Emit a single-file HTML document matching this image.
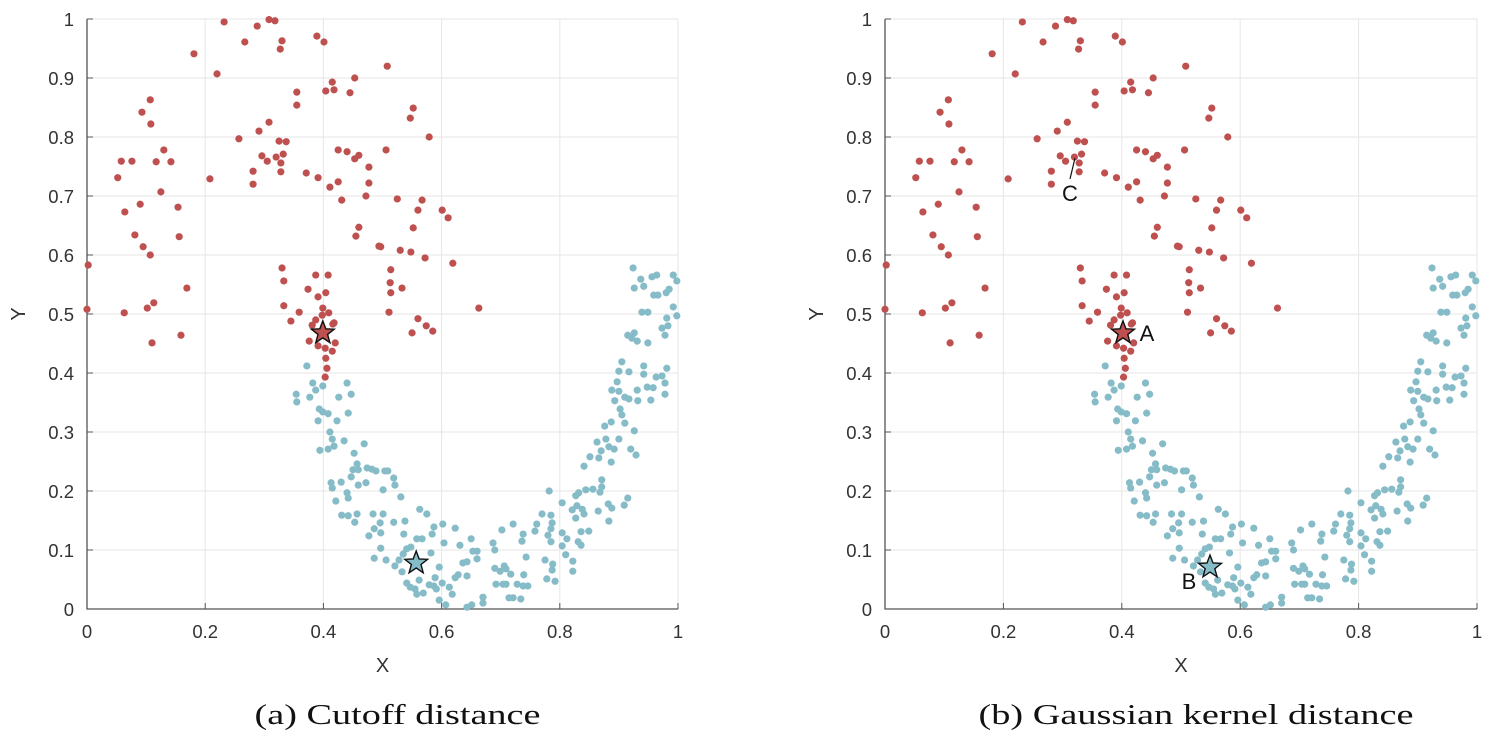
<!DOCTYPE html>
<html><head><meta charset="utf-8"><style>
body{margin:0;background:#fff;}
svg{display:block;font-family:"Liberation Sans",sans-serif;}
</style></head><body>
<svg id="c" width="1491" height="741"></svg>
<script>
const redX=[0.232,0.288,0.308,0.318,0.267,0.330,0.327,0.389,0.401,0.181,0.220,0.415,0.453,0.404,0.418,0.445,0.355,0.355,0.107,0.093,0.108,0.308,0.291,0.257,0.325,0.337,0.130,0.058,0.076,0.117,0.142,0.296,0.320,0.332,0.305,0.328,0.281,0.328,0.371,0.391,0.281,0.052,0.208,0.425,0.440,0.453,0.460,0.477,0.477,0.411,0.425,0.472,0.431,0.125,0.090,0.064,0.154,0.081,0.156,0.095,0.107,0.460,0.455,0.494,0.002,0.330,0.333,0.387,0.408,0.374,0.404,0.391,0.169,0.333,0.359,0.399,0.409,0.345,0.0,0.063,0.102,0.113,0.159,0.110,0.381,0.387,0.418,0.376,0.391,0.403,0.420,0.415,0.404,0.398,0.406,0.403,0.508,0.552,0.547,0.579,0.506,0.525,0.567,0.560,0.601,0.611,0.552,0.497,0.530,0.548,0.572,0.619,0.514,0.513,0.514,0.533,0.511,0.560,0.574,0.585,0.550,0.663,0.416];
const redY=[0.995,0.988,0.999,0.997,0.961,0.963,0.949,0.971,0.961,0.941,0.907,0.893,0.900,0.878,0.880,0.875,0.876,0.854,0.863,0.842,0.822,0.825,0.810,0.797,0.793,0.792,0.778,0.759,0.759,0.758,0.758,0.768,0.766,0.771,0.759,0.756,0.742,0.741,0.739,0.731,0.720,0.731,0.729,0.778,0.775,0.763,0.769,0.749,0.722,0.715,0.724,0.700,0.693,0.707,0.686,0.673,0.681,0.634,0.631,0.614,0.600,0.647,0.632,0.615,0.583,0.578,0.556,0.566,0.566,0.542,0.536,0.529,0.544,0.514,0.503,0.510,0.502,0.488,0.508,0.502,0.510,0.519,0.464,0.451,0.481,0.490,0.485,0.454,0.446,0.442,0.451,0.437,0.425,0.498,0.408,0.393,0.920,0.849,0.832,0.800,0.778,0.695,0.693,0.676,0.676,0.663,0.646,0.614,0.608,0.605,0.595,0.586,0.575,0.553,0.536,0.544,0.503,0.492,0.480,0.471,0.468,0.510,0.483];
const blueX=[0.924,0.937,0.956,0.964,0.992,0.998,0.926,0.942,0.959,0.966,0.980,0.985,0.992,0.939,0.949,0.981,0.998,0.973,0.983,0.978,0.915,0.926,0.931,0.949,0.922,0.372,0.382,0.387,0.399,0.440,0.354,0.355,0.377,0.426,0.447,0.393,0.399,0.408,0.391,0.423,0.442,0.411,0.415,0.435,0.418,0.394,0.408,0.469,0.452,0.457,0.450,0.459,0.474,0.482,0.489,0.504,0.509,0.519,0.521,0.447,0.459,0.472,0.430,0.413,0.415,0.501,0.531,0.440,0.442,0.421,0.431,0.442,0.457,0.453,0.484,0.501,0.496,0.486,0.497,0.477,0.519,0.538,0.536,0.563,0.575,0.587,0.584,0.558,0.567,0.602,0.623,0.604,0.631,0.650,0.653,0.660,0.660,0.497,0.486,0.506,0.548,0.541,0.535,0.582,0.528,0.521,0.533,0.562,0.596,0.589,0.541,0.547,0.555,0.558,0.569,0.579,0.587,0.591,0.601,0.613,0.618,0.596,0.607,0.623,0.628,0.643,0.636,0.643,0.643,0.651,0.670,0.670,0.687,0.690,0.702,0.721,0.738,0.736,0.743,0.690,0.699,0.706,0.709,0.717,0.739,0.692,0.704,0.709,0.728,0.738,0.746,0.714,0.721,0.734,0.758,0.761,0.770,0.782,0.785,0.787,0.785,0.780,0.785,0.775,0.788,0.787,0.778,0.792,0.804,0.804,0.812,0.804,0.810,0.822,0.822,0.821,0.827,0.832,0.829,0.838,0.841,0.827,0.836,0.849,0.831,0.836,0.844,0.856,0.868,0.871,0.871,0.865,0.882,0.888,0.883,0.909,0.915,0.841,0.851,0.866,0.863,0.870,0.883,0.892,0.887,0.878,0.900,0.920,0.929,0.876,0.887,0.910,0.926,0.902,0.905,0.888,0.893,0.900,0.910,0.917,0.932,0.931,0.897,0.900,0.905,0.917,0.942,0.942,0.948,0.958,0.954,0.963,0.973,0.978,0.978,0.981];
const blueY=[0.578,0.559,0.563,0.566,0.566,0.556,0.544,0.547,0.532,0.532,0.536,0.542,0.512,0.503,0.503,0.493,0.497,0.476,0.480,0.464,0.464,0.468,0.454,0.451,0.459,0.412,0.383,0.371,0.378,0.383,0.364,0.351,0.359,0.359,0.364,0.339,0.334,0.331,0.319,0.319,0.332,0.300,0.288,0.285,0.276,0.269,0.271,0.280,0.264,0.246,0.236,0.236,0.239,0.237,0.234,0.234,0.234,0.222,0.210,0.224,0.210,0.214,0.215,0.214,0.205,0.202,0.190,0.197,0.188,0.183,0.159,0.158,0.161,0.147,0.161,0.161,0.146,0.136,0.129,0.124,0.147,0.149,0.127,0.169,0.161,0.139,0.127,0.119,0.119,0.144,0.137,0.112,0.108,0.119,0.098,0.098,0.085,0.103,0.086,0.083,0.105,0.102,0.093,0.095,0.083,0.073,0.063,0.049,0.071,0.053,0.044,0.037,0.034,0.025,0.027,0.041,0.039,0.034,0.044,0.037,0.025,0.015,0.007,0.053,0.058,0.056,0.078,0.080,0.003,0.007,0.020,0.010,0.112,0.100,0.134,0.144,0.127,0.115,0.088,0.069,0.064,0.073,0.068,0.059,0.058,0.042,0.042,0.042,0.042,0.039,0.039,0.019,0.019,0.017,0.132,0.144,0.161,0.200,0.159,0.146,0.136,0.125,0.114,0.083,0.076,0.066,0.051,0.047,0.180,0.129,0.119,0.107,0.092,0.081,0.064,0.168,0.192,0.197,0.175,0.169,0.161,0.154,0.131,0.132,0.114,0.108,0.202,0.203,0.198,0.207,0.219,0.166,0.178,0.171,0.149,0.176,0.188,0.242,0.258,0.256,0.283,0.268,0.275,0.271,0.249,0.288,0.288,0.271,0.261,0.310,0.317,0.315,0.302,0.339,0.329,0.371,0.353,0.369,0.359,0.356,0.353,0.371,0.385,0.403,0.419,0.402,0.398,0.412,0.376,0.375,0.354,0.393,0.395,0.383,0.364,0.408];
const ticks=[0,0.2,0.4,0.6,0.8,1];
const tickLabels=["0","0.2","0.4","0.6","0.8","1"];
const yTicks=[0,0.1,0.2,0.3,0.4,0.5,0.6,0.7,0.8,0.9,1];
const yTickLabels=["0","0.1","0.2","0.3","0.4","0.5","0.6","0.7","0.8","0.9","1"];
const starsLeft=[[0.399,0.468,"red"],[0.557,0.078,"blue"]];
const starsRight=[[0.402,0.468,"red"],[0.549,0.071,"blue"]];
const RED="#bf5050",BLUE="#86bcc8";
const NS="http://www.w3.org/2000/svg";
const svg=document.getElementById('c');
function mk(tag,attrs,parent){const e=document.createElementNS(NS,tag);for(const k in attrs)e.setAttribute(k,attrs[k]);(parent||svg).appendChild(e);return e;}
function starPath(cx,cy,R){const r=R*0.42;let d="";for(let i=0;i<10;i++){const a=-Math.PI/2+i*Math.PI/5;const rr=i%2?r:R;d+=(i?"L":"M")+(cx+rr*Math.cos(a)).toFixed(1)+","+(cy+rr*Math.sin(a)).toFixed(1);}return d+"Z";}
function panel(x0,x1,stars,title,capW,name){
  const y0=609,y1=19;
  const sx=v=>x0+v*(x1-x0), sy=v=>y0-v*(y0-y1);
  const g=mk('g',{});
  
  
  ticks.forEach((t,i)=>{
    const l=mk('line',{x1:sx(t),x2:sx(t),y1:y1,y2:y0,stroke:"#e6e6e6","stroke-width":1},g);
    
    
    const tk=mk('line',{x1:sx(t),x2:sx(t),y1:y0,y2:y0-6,stroke:"#555","stroke-width":1},g);
    
    
    const tx=mk('text',{x:sx(t),y:y0+29,"text-anchor":"middle","font-size":18.5,fill:"#333"},g);
    tx.textContent=tickLabels[i];
    
    
  });
  yTicks.forEach((t,i)=>{
    const l=mk('line',{x1:x0,x2:x1,y1:sy(t),y2:sy(t),stroke:"#e6e6e6","stroke-width":1},g);
    
    
    const tk=mk('line',{x1:x0,x2:x0+6,y1:sy(t),y2:sy(t),stroke:"#555","stroke-width":1},g);
    
    
    const tx=mk('text',{x:x0-13,y:sy(t)+7,"text-anchor":"end","font-size":18.5,fill:"#333"},g);
    tx.textContent=yTickLabels[i];
    
    
  });
  const ax=mk('path',{d:`M${x0},${y1}V${y0}H${x1}`,fill:"none",stroke:"#555","stroke-width":1.3},g);
  
  
  for(let i=0;i<blueX.length;i++){
    const c=mk('circle',{cx:sx(blueX[i]),cy:sy(blueY[i]),r:3.6,fill:BLUE},g);
    
    
  }
  for(let i=0;i<redX.length;i++){
    const c=mk('circle',{cx:sx(redX[i]),cy:sy(redY[i]),r:3.6,fill:RED},g);
    
    
  }
  stars.forEach(s=>{
    const p=mk('path',{d:starPath(sx(s[0]),sy(s[1]),12),fill:s[2]==="red"?RED:BLUE,stroke:"#111","stroke-width":1.4},g);
    
    
  });
  const xl=mk('text',{x:(x0+x1)/2,y:672,"text-anchor":"middle","font-size":20,fill:"#333"},g);
  xl.textContent="X";
  
  
  const yl=mk('text',{x:0,y:0,"text-anchor":"middle","font-size":20,fill:"#333",transform:`translate(${x0-62},${(y0+y1)/2}) rotate(-90)`},g);
  yl.textContent="Y";
  
  
  const tt=mk('text',{x:(x0+x1)/2+15,y:724,"text-anchor":"middle","font-size":29,fill:"#111","font-family":"Liberation Serif, serif",textLength:capW,lengthAdjust:"spacingAndGlyphs"},g);
  tt.textContent=title;
  
  
  return {sx,sy,g};
}
panel(87,678,starsLeft,"(a) Cutoff distance",286,"panel-cutoff");
const R=panel(885,1477,starsRight,"(b) Gaussian kernel distance",435,"panel-gaussian");
function lab(txt,x,y,name){const t=mk('text',{x:x,y:y,"font-size":22,fill:"#111","text-anchor":"middle"},R.g);t.textContent=txt;

}
lab("A",R.sx(0.402)+24,R.sy(0.468)+8,"label-a");
lab("B",R.sx(0.549)-21,R.sy(0.071)+22,"label-b");
lab("C",1070,201,"label-c");
const cl=mk('line',{x1:1070,x2:1075,y1:179,y2:158,stroke:"#111","stroke-width":1.2},R.g);


</script>
</body></html>
